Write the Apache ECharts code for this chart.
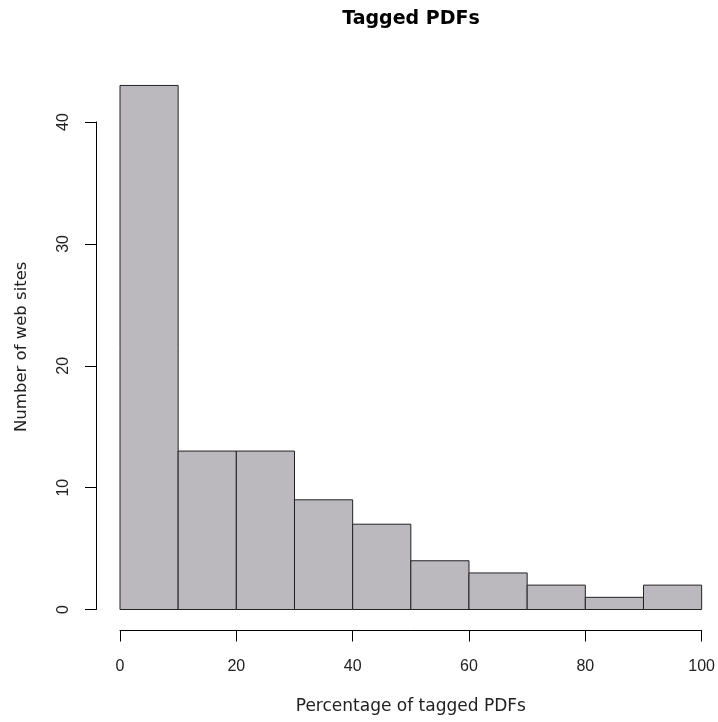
<!DOCTYPE html>
<html>
<head>
<meta charset="utf-8">
<script src="https://cdn.jsdelivr.net/npm/echarts@6/dist/echarts.min.js"></script>
<style>html,body{margin:0;padding:0;background:#fff}#c{width:718px;height:722px}</style>
</head>
<body>
<div id="c"></div>
<script>
const binStarts = [0, 10, 20, 30, 40, 50, 60, 70, 80, 90];
const binEnds = [10, 20, 30, 40, 50, 60, 70, 80, 90, 100];
const counts = [43, 13, 13, 9, 7, 4, 3, 2, 1, 2];
const xTicks = [0, 20, 40, 60, 80, 100];
const yTicks = [0, 10, 20, 30, 40];

const chart = echarts.init(document.getElementById('c'), null, {renderer: 'canvas'});
const data = counts.map((c, i) => [binStarts[i], binEnds[i], c]);
const labelFont = 'DejaVu Sans';
chart.setOption({
  backgroundColor: '#ffffff',
  animation: false,
  title: {
    text: 'Tagged PDFs',
    left: 406, top: 5, textAlign: 'center',
    textStyle: {fontFamily: 'DejaVu Sans', fontWeight: 'bold', fontSize: 19, color: '#000'}
  },
  grid: {left: 120, right: 15.3, top: 122, bottom: 112.5, containLabel: false},
  xAxis: {
    type: 'value', min: xTicks[0], max: xTicks[xTicks.length - 1], interval: 20,
    position: 'bottom', offset: 21,
    name: 'Percentage of tagged PDFs', nameLocation: 'middle', nameGap: 68,
    nameTextStyle: {fontFamily: labelFont, fontSize: 17, color: '#222'},
    axisLine: {show: true, onZero: false, lineStyle: {color: '#000', width: 1}},
    axisTick: {show: true, inside: false, length: 11, lineStyle: {color: '#000'}},
    axisLabel: {margin: 28, fontFamily: 'Liberation Sans', fontSize: 16, color: '#222'},
    splitLine: {show: false}
  },
  yAxis: {
    type: 'value', min: yTicks[0], max: yTicks[yTicks.length - 1], interval: 10,
    position: 'left', offset: 24,
    name: 'Number of web sites', nameLocation: 'middle', nameGap: 66, nameRotate: 90,
    nameTextStyle: {fontFamily: labelFont, fontSize: 16.5, color: '#222', padding: [0, 0, 0, 38]},
    axisLine: {show: true, onZero: false, lineStyle: {color: '#000', width: 1}},
    axisTick: {show: true, inside: false, length: 11, lineStyle: {color: '#000'}},
    axisLabel: {margin: 24, rotate: 90, fontFamily: 'Liberation Sans', fontSize: 16, color: '#222'},
    splitLine: {show: false}
  },
  series: [{
    type: 'custom',
    clip: false,
    data: data,
    encode: {x: [0, 1], y: 2},
    renderItem: function (params, api) {
      const p0 = api.coord([api.value(0), api.value(2)]);
      const p1 = api.coord([api.value(1), 0]);
      return {
        type: 'rect',
        shape: {x: p0[0], y: p0[1], width: p1[0] - p0[0], height: p1[1] - p0[1]},
        style: {fill: '#bbb9bd', stroke: '#222', lineWidth: 1}
      };
    }
  }]
});
</script>
</body>
</html>
